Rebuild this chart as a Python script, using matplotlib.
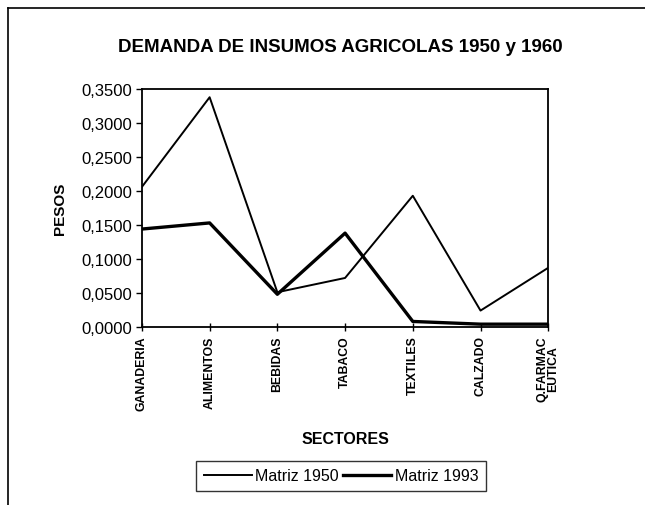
import numpy as np
import matplotlib.pyplot as plt
from matplotlib.ticker import FuncFormatter, MultipleLocator
from matplotlib.lines import Line2D

plt.rcParams['font.family'] = ['Liberation Sans', 'DejaVu Sans']

sectores = ["GANADERIA", "ALIMENTOS", "BEBIDAS", "TABACO",
            "TEXTILES", "CALZADO", "Q.FARMAC\nEUTICA"]
matriz_1950 = [0.206, 0.338, 0.051, 0.072, 0.193, 0.024, 0.087]
matriz_1993 = [0.144, 0.153, 0.048, 0.138, 0.008, 0.004, 0.004]

fig = plt.figure(figsize=(6.45, 5.06), dpi=100)
ax = fig.add_axes([0.220, 0.352, 0.630, 0.470])

x = np.arange(len(sectores))
ax.plot(x, matriz_1950, color='black', lw=1.4, label='Matriz 1950')
ax.plot(x, matriz_1993, color='black', lw=2.4, label='Matriz 1993')

ax.set_xlim(0, len(sectores) - 1)
ax.set_ylim(0, 0.35)
ax.yaxis.set_major_locator(MultipleLocator(0.05))
ax.yaxis.set_major_formatter(FuncFormatter(lambda v, p: f"{v:.4f}".replace('.', ',')))
ax.set_xticks(x)
ax.set_xticklabels(sectores, rotation=90, fontsize=8.8, fontweight='bold',
                   va='top', ha='center', linespacing=0.85)
ax.tick_params(axis='y', labelsize=12, direction='out', length=4, width=1, pad=3)
ax.tick_params(axis='x', direction='inout', length=6, width=1, pad=3)
for s in ax.spines.values():
    s.set_linewidth(1.3)

fig.text(0.527, 1 - 48 / 506, 'DEMANDA DE INSUMOS AGRICOLAS 1950 y 1960',
         fontsize=13.5, fontweight='bold', ha='center', va='center')
ax.set_ylabel('PESOS', fontsize=11, fontweight='bold', labelpad=10)
fig.text(0.535, 1 - 440 / 506, 'SECTORES', fontsize=11.5, fontweight='bold',
         ha='center', va='center')

leg = fig.legend(loc='center', bbox_to_anchor=(341 / 645, 1 - 477 / 506), ncol=2,
                 frameon=True, fancybox=False, fontsize=11.5,
                 handlelength=3.0, handletextpad=0.2, columnspacing=0.3,
                 borderpad=0.5, borderaxespad=0)
leg.get_frame().set_edgecolor('black')
leg.get_frame().set_linewidth(1.0)

# outer chart border (left and top)
fig.add_artist(Line2D([8 / 645, 8 / 645], [0, 1 - 9 / 506], color='black',
                      lw=1.2, transform=fig.transFigure))
fig.add_artist(Line2D([8 / 645, 1], [1 - 9 / 506, 1 - 9 / 506], color='black',
                      lw=1.2, transform=fig.transFigure))

fig.savefig('out.png', dpi=100)
